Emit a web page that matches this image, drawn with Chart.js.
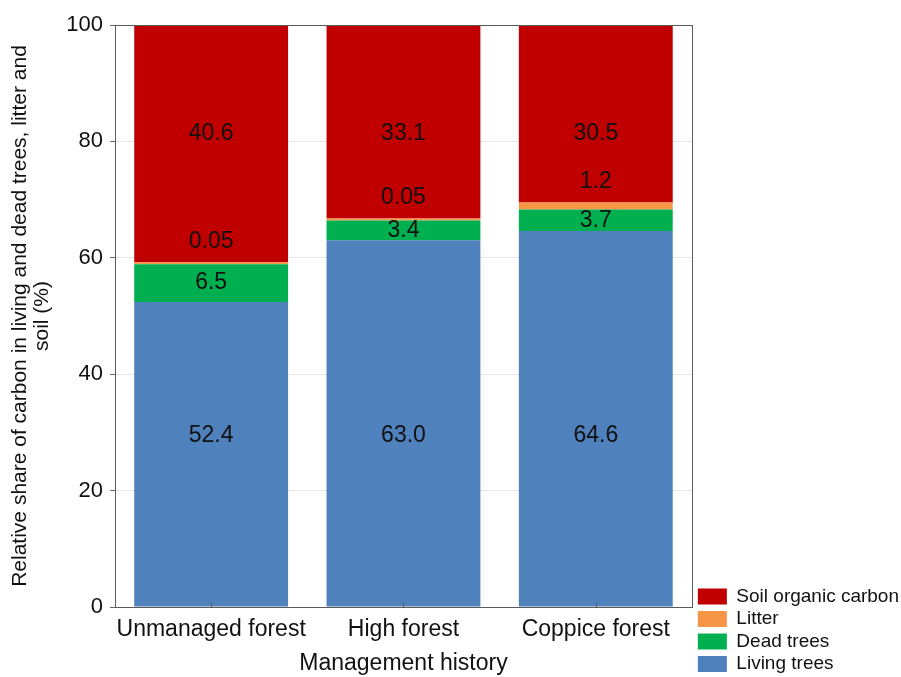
<!DOCTYPE html>
<html>
<head>
<meta charset="utf-8">
<title>Relative share of carbon</title>
<script src="https://cdn.jsdelivr.net/npm/chart.js"></script>
<style>
  body { margin: 0; background: #fff; }
  #wrap { width: 901px; height: 677px; position: relative; }
</style>
</head>
<body>
<div id="wrap"><canvas id="grafico"></canvas></div>
<script>
// dados
const categorias = ['Unmanaged forest', 'High forest', 'Coppice forest'];
const livingTrees = [52.4, 63.0, 64.6];
const deadTrees = [6.5, 3.4, 3.7];
const litter = [0.05, 0.05, 1.2];
const soilCarbon = [40.6, 33.1, 30.5];
const yTicks = [0, 20, 40, 60, 80, 100];

const fonte = '"Liberation Sans", Arial, sans-serif';
Chart.defaults.font.family = fonte;
Chart.defaults.color = '#1a1a1a';

function rotulo(v) {
    return v < 0.1 ? v.toFixed(2) : v.toFixed(1);
}

// moldura, ticks internos do eixo x e os valores dentro das barras
const rotulosPlugin = {
    id: 'rotulos',
    afterDatasetsDraw(chart) {
        const ctx = chart.ctx;
        const area = chart.chartArea;
        const x = chart.scales.x;
        const y = chart.scales.y;
        ctx.save();
        ctx.strokeStyle = '#5a5a5a';
        ctx.lineWidth = 1;
        ctx.strokeRect(Math.round(area.left) + 0.5, Math.round(area.top) + 0.5,
            Math.round(area.right - area.left), Math.round(area.bottom - area.top));
        x.ticks.forEach((t, i) => {
            const px = Math.round(x.getPixelForTick(i)) + 0.5;
            ctx.beginPath();
            ctx.moveTo(px, area.bottom);
            ctx.lineTo(px, area.bottom - 4);
            ctx.stroke();
        });

        ctx.font = '23px ' + fonte;
        ctx.fillStyle = '#111';
        ctx.textAlign = 'center';
        ctx.textBaseline = 'middle';
        chart.data.datasets.forEach((ds, di) => {
            const meta = chart.getDatasetMeta(di);
            meta.data.forEach((bar, i) => {
                let py;
                if (ds.label === 'Living trees') py = y.getPixelForValue(29.5);
                else if (ds.label === 'Dead trees') py = (bar.y + bar.base) / 2;
                else if (ds.label === 'Litter') py = bar.y - 21;
                else py = y.getPixelForValue(81.4);
                ctx.fillText(rotulo(ds.data[i]), bar.x, py);
            });
        });
        ctx.restore();
    }
};

const ctx = document.getElementById('grafico').getContext('2d');
const chart = new Chart(ctx, {
    type: 'bar',
    data: {
        labels: categorias,
        datasets: [
            { label: 'Living trees', data: livingTrees, backgroundColor: '#4f81bd' },
            { label: 'Dead trees', data: deadTrees, backgroundColor: '#00b050' },
            { label: 'Litter', data: litter, backgroundColor: '#f79646', minBarLength: 2 },
            { label: 'Soil organic carbon', data: soilCarbon, backgroundColor: '#c00000' }
        ]
    },
    options: {
        responsive: true,
        maintainAspectRatio: false,
        devicePixelRatio: 1,
        animation: false,
        datasets: {
            bar: { barPercentage: 0.8, categoryPercentage: 1.0, borderWidth: 0 }
        },
        layout: { padding: { top: 25, right: -8, bottom: 0, left: 0 } },
        scales: {
            x: {
                stacked: true,
                grid: { display: false, drawTicks: false },
                border: { display: false },
                ticks: {
                    font: { size: 23 }, padding: 9, color: '#111',
                    maxRotation: 0, minRotation: 0, autoSkip: false
                },
                title: {
                    display: true,
                    text: 'Management history',
                    font: { size: 23, lineHeight: 1.2 },
                    padding: { top: 0, bottom: 0 },
                    color: '#111'
                },
                afterFit: s => { s.height = 70; }
            },
            y: {
                stacked: true,
                min: 0,
                max: 100,
                afterBuildTicks: s => { s.ticks = yTicks.map(v => ({ value: v })); },
                grid: { color: '#e6e6e6', tickColor: '#666', tickLength: 5 },
                border: { display: false },
                ticks: { font: { size: 22 }, padding: 7, color: '#111' },
                title: {
                    display: true,
                    text: ['Relative share of carbon in living and dead trees, litter and', 'soil (%)'],
                    font: { size: 21, lineHeight: 1.05 },
                    padding: { top: 9, bottom: 0 },
                    color: '#111'
                },
                afterFit: s => { s.width = 115; }
            },
            margem: {
                type: 'linear',
                position: 'right',
                display: true,
                grid: { display: false, drawTicks: false },
                border: { display: false },
                ticks: { display: false },
                afterFit: s => { s.width = 2.4; }
            }
        },
        plugins: {
            legend: {
                position: 'right',
                align: 'end',
                reverse: true,
                maxWidth: 240,
                labels: {
                    boxWidth: 29,
                    boxHeight: 16,
                    padding: 3.5,
                    font: { size: 19 },
                    color: '#111'
                }
            },
            tooltip: { enabled: false }
        }
    },
    plugins: [rotulosPlugin]
});
</script>
</body>
</html>
